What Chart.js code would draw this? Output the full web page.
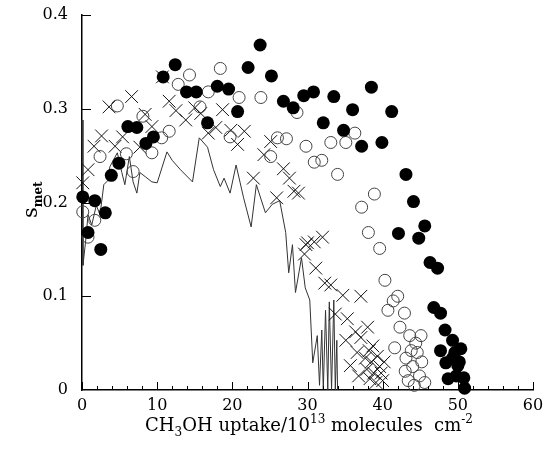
<!DOCTYPE html>
<html>
<head>
<meta charset="utf-8">
<script src="https://cdn.jsdelivr.net/npm/chart.js@4.4.0/dist/chart.umd.min.js"></script>
<style>
  body { margin: 0; background: #fff; }
  canvas { display: block; }
</style>
</head>
<body>
<canvas id="chart" width="544" height="450"></canvas>
<script>
"use strict";

// tick labels
const xTickValues = [0, 10, 20, 30, 40, 50, 60];
const yTickLabels = ["0", "0.1", "0.2", "0.3", "0.4"];

// filled circles
const filledX = [0.1, 1.7, 3.1, 0.8, 2.5, 3.9, 4.9, 6.1, 7.3, 8.5, 9.5, 10.8, 12.4, 13.9, 15.2, 16.7, 18.0, 19.5, 20.7, 22.1,
  23.7, 25.2, 26.8, 28.1, 29.5, 30.8, 32.1, 33.5, 34.8, 36.0, 37.2, 38.5, 39.9, 41.2, 43.1, 44.1, 42.1, 45.6, 44.8, 46.3,
  47.3, 46.8, 47.7, 48.3, 49.3, 47.7, 50.4, 49.3, 48.4, 50.0, 48.7, 50.8, 50.9, 49.6, 50.2, 49.8];
const filledY = [0.206, 0.202, 0.189, 0.168, 0.150, 0.229, 0.242, 0.281, 0.280, 0.263, 0.270, 0.334, 0.347, 0.318, 0.318, 0.285, 0.324, 0.321, 0.297, 0.344,
  0.368, 0.335, 0.308, 0.301, 0.314, 0.318, 0.285, 0.313, 0.277, 0.299, 0.260, 0.323, 0.264, 0.297, 0.230, 0.201, 0.167, 0.175, 0.162, 0.136,
  0.130, 0.088, 0.082, 0.064, 0.053, 0.042, 0.044, 0.034, 0.029, 0.026, 0.012, 0.013, 0.002, 0.040, 0.030, 0.015];

// open circles
const openX = [0.1, 1.7, 0.8, 2.4, 4.7, 5.9, 6.8, 8.1, 9.3, 10.6, 11.6, 12.8, 14.3, 15.7, 16.8, 18.4, 19.7, 20.9, 23.8, 25.1,
  26.0, 27.2, 28.6, 29.8, 30.9, 31.9, 33.1, 34.0, 35.1, 36.3, 37.2, 38.9, 38.1, 39.6, 40.3, 42.0, 40.7, 41.4, 42.9, 42.3,
  41.6, 43.6, 45.1, 44.4, 43.1, 44.0, 44.9, 43.4, 44.2, 45.2, 43.8, 44.6, 45.6, 43.0];
const openY = [0.190, 0.181, 0.163, 0.249, 0.303, 0.252, 0.233, 0.292, 0.253, 0.269, 0.276, 0.326, 0.336, 0.302, 0.318, 0.343, 0.270, 0.312, 0.312, 0.249,
  0.269, 0.268, 0.296, 0.260, 0.243, 0.245, 0.264, 0.230, 0.264, 0.274, 0.195, 0.209, 0.168, 0.151, 0.117, 0.100, 0.085, 0.095, 0.082, 0.067,
  0.045, 0.058, 0.058, 0.050, 0.034, 0.025, 0.015, 0.010, 0.005, 0.030, 0.042, 0.040, 0.008, 0.020];

// crosses
const crossX = [0.1, 0.8, 1.6, 2.6, 3.6, 4.4, 5.4, 6.6, 7.7, 8.4, 9.3, 10.7, 11.6, 12.5, 13.8, 15.0, 15.8, 16.8, 17.8, 18.7,
  19.8, 20.7, 21.6, 22.8, 24.2, 25.1, 25.9, 26.8, 27.6, 28.2, 28.8, 29.6, 29.8, 30.0, 30.9, 32.0, 31.1, 32.3, 33.1, 34.7,
  37.1, 33.7, 35.3, 36.4, 38.0, 35.1, 37.1, 38.7, 35.7, 37.7, 38.8, 39.6, 40.0, 38.3, 39.1, 36.6, 37.9, 39.3, 38.5, 36.8,
  39.8, 38.2, 40.2];
const crossY = [0.221, 0.235, 0.260, 0.271, 0.302, 0.260, 0.270, 0.313, 0.259, 0.294, 0.281, 0.334, 0.308, 0.298, 0.288, 0.301, 0.295, 0.274, 0.280, 0.299,
  0.277, 0.262, 0.276, 0.226, 0.251, 0.265, 0.205, 0.236, 0.226, 0.212, 0.210, 0.145, 0.155, 0.157, 0.158, 0.163, 0.130, 0.114, 0.112, 0.101,
  0.100, 0.081, 0.076, 0.062, 0.067, 0.053, 0.056, 0.047, 0.026, 0.034, 0.018, 0.025, 0.010, 0.012, 0.008, 0.040, 0.022, 0.036, 0.030, 0.015,
  0.018, 0.042, 0.030];

// thin line
const lineX = [0, 0.13, 0.5, 0.8, 1.3, 1.9, 2.4, 2.9, 3.5, 3.7, 4.7, 5.3, 5.7, 6.3, 6.8, 7.3, 7.7, 8.5, 9.3, 10.0,
  11.3, 12.0, 13.1, 14.7, 15.6, 16.7, 17.5, 18.4, 18.9, 19.7, 20.5, 21.5, 22.5, 23.2, 24.4, 25.3, 26.3, 27.1, 27.5, 28.0,
  28.4, 29.2, 29.7, 30.3, 30.7, 31.3, 31.6, 31.9, 32.1, 32.4, 32.7, 32.9, 33.2, 33.5, 33.7, 33.9, 34.0];
const lineY = [0.288, 0.133, 0.160, 0.187, 0.176, 0.197, 0.187, 0.219, 0.224, 0.238, 0.253, 0.232, 0.219, 0.249, 0.222, 0.210, 0.232, 0.227, 0.222, 0.221,
  0.254, 0.245, 0.235, 0.222, 0.269, 0.259, 0.235, 0.217, 0.226, 0.210, 0.240, 0.205, 0.174, 0.219, 0.189, 0.198, 0.202, 0.168, 0.125, 0.155,
  0.104, 0.141, 0.109, 0.096, 0.029, 0.058, 0.005, 0.064, 0, 0.085, 0, 0.094, 0, 0.096, 0, 0.053, 0];

const pts = (xs, ys) => xs.map((x, i) => ({ x, y: ys[i] }));
const SERIF = "'DejaVu Serif', serif";

const innerTicks = {
  id: "innerTicks",
  afterDraw(chart) {
    const { ctx, scales: { x, y }, chartArea } = chart;
    ctx.save();
    ctx.strokeStyle = "#000";
    ctx.lineWidth = 1;
    ctx.beginPath();
    for (let v = 0; v <= 60; v += 2) {
      const px = Math.round(x.getPixelForValue(v)) + 0.5;
      const len = v % 10 === 0 ? 8 : 4;
      ctx.moveTo(px, chartArea.bottom);
      ctx.lineTo(px, chartArea.bottom - len);
    }
    for (let v = 0.1; v <= 0.4001; v += 0.1) {
      const py = Math.round(y.getPixelForValue(v)) + 0.5;
      ctx.moveTo(chartArea.left, py);
      ctx.lineTo(chartArea.left + 9, py);
    }
    ctx.stroke();
    ctx.restore();
  }
};

const axisTitles = {
  id: "axisTitles",
  afterDraw(chart) {
    const { ctx } = chart;
    ctx.save();
    ctx.fillStyle = "#000";
    ctx.textBaseline = "alphabetic";

    // x title with sub/superscripts
    const big = "18px " + SERIF, small = "12px " + SERIF;
    const parts = [
      ["CH", big, 0], ["3", small, 5], ["OH uptake/10", big, 0], ["13", small, -8],
      [" molecules  cm", big, 0], ["-2", small, -8]
    ];
    let total = 0;
    parts.forEach(p => { ctx.font = p[1]; total += ctx.measureText(p[0]).width; });
    let cx = 309 - total / 2;
    parts.forEach(p => {
      ctx.font = p[1];
      ctx.fillText(p[0], cx, 431 + p[2]);
      cx += ctx.measureText(p[0]).width;
    });

    // y title: s_met
    ctx.translate(37, 218);
    ctx.rotate(-Math.PI / 2);
    ctx.font = "21px " + SERIF;
    ctx.fillText("s", 0, 0);
    const w = ctx.measureText("s").width;
    ctx.font = "bold 12px " + SERIF;
    ctx.fillText("met", w, 5);
    ctx.restore();
  }
};

new Chart(document.getElementById("chart"), {
  type: "scatter",
  data: {
    datasets: [
      {
        label: "filled",
        data: pts(filledX, filledY),
        pointStyle: "circle",
        pointRadius: 6.5,
        backgroundColor: "#000",
        borderColor: "#000",
        borderWidth: 0
      },
      {
        label: "open",
        data: pts(openX, openY),
        pointStyle: "circle",
        pointRadius: 6,
        backgroundColor: "rgba(255,255,255,0)",
        borderColor: "#444",
        borderWidth: 1
      },
      {
        label: "cross",
        data: pts(crossX, crossY),
        pointStyle: "crossRot",
        pointRadius: 9,
        borderColor: "#111",
        borderWidth: 1
      },
      {
        type: "line",
        label: "line",
        data: pts(lineX, lineY),
        showLine: true,
        pointRadius: 0,
        borderColor: "#333",
        borderWidth: 1,
        tension: 0
      }
    ]
  },
  options: {
    responsive: false,
    animation: false,
    clip: false,
    layout: { padding: { top: 15, right: 11, left: 0, bottom: 0 } },
    plugins: { legend: { display: false }, tooltip: { enabled: false } },
    scales: {
      x: {
        type: "linear",
        min: 0,
        max: 60,
        afterFit: s => { s.height = 60; s.paddingLeft = 0; s.paddingRight = 0; },
        afterBuildTicks: s => { s.ticks = xTickValues.map(v => ({ value: v })); },
        ticks: {
          padding: 6,
          color: "#000",
          font: { family: SERIF, size: 16 },
          maxRotation: 0,
          callback: v => String(v)
        },
        grid: { display: false, drawTicks: false },
        border: { display: true, color: "#000", width: 1.5 }
      },
      y: {
        type: "linear",
        min: 0,
        max: 0.4,
        afterFit: s => { s.width = 82; s.paddingTop = 0; s.paddingBottom = 0; },
        afterBuildTicks: s => { s.ticks = yTickLabels.map(t => ({ value: Number(t) })); },
        ticks: {
          padding: 14,
          color: "#000",
          font: { family: SERIF, size: 16 },
          callback: (v, i) => yTickLabels[i]
        },
        grid: { display: false, drawTicks: false },
        border: { display: true, color: "#000", width: 1.5 }
      }
    }
  },
  plugins: [innerTicks, axisTitles]
});
</script>
</body>
</html>
